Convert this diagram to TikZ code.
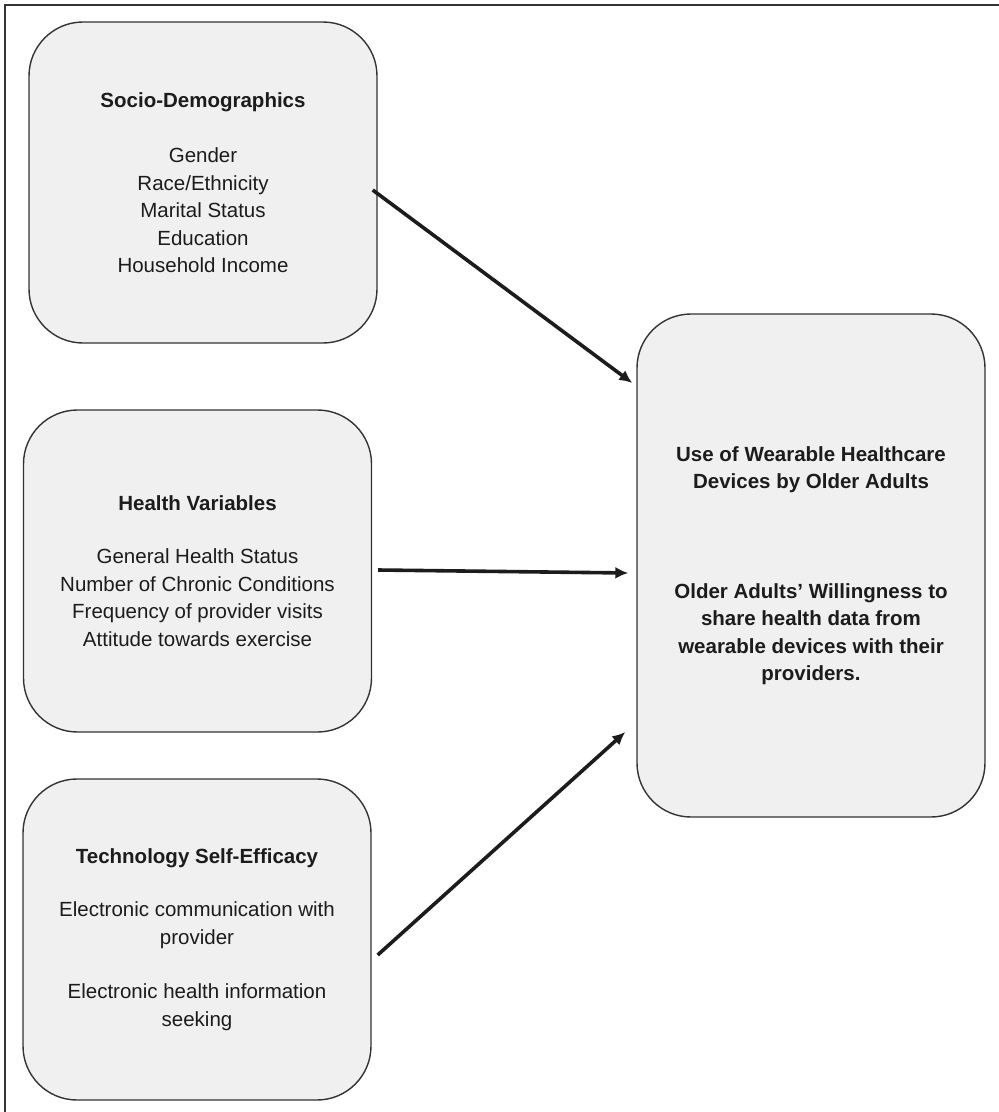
\documentclass[tikz,border=0pt]{standalone}
\usepackage{fontspec}
\setmainfont{Liberation Sans}
\usetikzlibrary{arrows.meta}

\definecolor{boxfill}{HTML}{F0F0F0}
\definecolor{boxline}{HTML}{333333}
\definecolor{inkline}{HTML}{1C1C1C}

\tikzset{
	factor/.style = {draw=boxline, line width=1.4pt, fill=boxfill, rounded corners=54pt,
		minimum width=348pt, minimum height=321pt, inner sep=0pt, align=center,
		text=inkline, font=\fontsize{20.5}{27.5}\selectfont},
	link/.style = {draw=inkline, line width=3.6pt, -{Latex[length=13pt,width=12pt]}}
}

\begin{document}
\begin{tikzpicture}[x=1pt, y=-1pt]

\useasboundingbox (0,0) rectangle (999,1112);

% frame
\draw[boxline, line width=2pt] (999,5) -- (5,5) -- (5,1112);

% left boxes
\node[factor] (socio) at (203,182.5) {\textbf{Socio-Demographics}\\[28pt]
	Gender\\ Race/Ethnicity\\ Marital Status\\ Education\\ Household Income};
\node[factor, minimum height=322pt] (health) at (197.5,571) {\textbf{Health Variables}\\[26pt]
	General Health Status\\ Number of Chronic Conditions\\
	Frequency of provider visits\\ Attitude towards exercise};
\node[factor] (tech) at (197,939.5) {\textbf{Technology Self-Efficacy}\\[26pt]
	Electronic communication with\\ provider\\[27pt]
	Electronic health information\\ seeking};

% outcome box
\node[factor, minimum height=503pt, font=\bfseries\fontsize{20.5}{27.5}\selectfont] (use) at (811,565.5)
	{Use of Wearable Healthcare\\ Devices by Older Adults\\[82pt]
	Older Adults’ Willingness to\\ share health data from\\
	wearable devices with their\\ providers.};

% arrows
\draw[link] ([shift={(-5,7.5)}]socio.east) -- ([shift={(-4,-182.5)}]use.west);
\draw[link] ([shift={(6,-1)}]health.east) -- ([shift={(-8,7.5)}]use.west);
\draw[link] ([shift={(6,15.5)}]tech.east) -- ([shift={(-11,166.5)}]use.west);

\end{tikzpicture}
\end{document}
